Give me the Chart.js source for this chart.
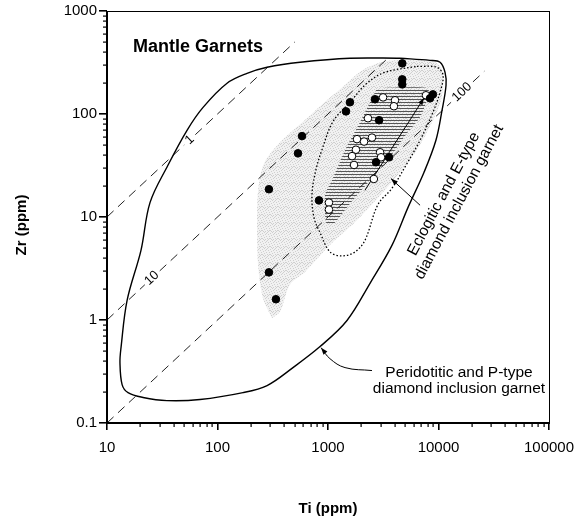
<!DOCTYPE html>
<html>
<head>
<meta charset="utf-8">
<script src="https://cdn.jsdelivr.net/npm/chart.js@4.4.0/dist/chart.umd.min.js"></script>
<style>
  html, body { margin: 0; padding: 0; background: #fff; }
</style>
</head>
<body>
<canvas id="myChart" width="583" height="520"></canvas>
<script>
// tick labels
const xTickValues = [10, 100, 1000, 10000, 100000];
const xTickLabels = ['10', '100', '1000', '10000', '100000'];
const yTickValues = [0.1, 1, 10, 100, 1000];
const yTickLabels = ['0.1', '1', '10', '100', '1000'];

// garnet analyses (ppm)
const filledTi = [4700, 4700, 4700, 2660, 2900, 1580, 1455, 582, 535, 292, 829, 2720, 3570, 292, 338, 8900, 8380];
const filledZr = [310, 217, 194, 139, 87, 130, 106, 61, 41.5, 18.6, 14.5, 34, 38, 2.9, 1.59, 155, 142];
const openTi = [3150, 4040, 3950, 7700, 2300, 1830, 2120, 2500, 1790, 1650, 2960, 3020, 1720, 2600, 1020, 1020];
const openZr = [145, 136, 119, 152, 91, 57, 54, 59, 45, 39, 42.5, 38, 32, 23.4, 13.8, 11.8];

// peridotitic / P-type field (solid outline)
const peridTi = [4490, 8380, 10330, 11460, 11700, 10770, 9480, 7400, 5300, 3790, 2400, 1486, 847, 482, 281, 170, 69.5, 34.9, 21.2, 15.5, 13.7, 13.1, 13.4, 15.2, 20.3, 24.5, 35.6, 53, 74, 122, 185, 281, 558, 1580, 4490];
const peridZr = [348, 332, 318, 254, 190, 109, 55.6, 27.2, 12.4, 5.3, 2.27, 0.99, 0.552, 0.345, 0.231, 0.197, 0.169, 0.165, 0.177, 0.197, 0.236, 0.386, 0.543, 1.55, 4.75, 13.8, 31.8, 69.5, 116, 199, 248, 284, 318, 348, 348];

// eclogitic / E-type field (dotted outline)
const eclogTi = [6380, 9680, 11000, 10330, 8910, 6810, 5080, 3790, 2830, 2160, 1754, 1340, 1042, 847, 747, 716, 778, 883, 1109, 1580, 2254, 3280, 6380];
const eclogZr = [290, 284, 238, 163, 104, 55.6, 31.8, 19.0, 13.2, 5.94, 4.58, 4.19, 4.58, 7.06, 9.86, 16.5, 28.8, 45.1, 84.4, 130, 199, 254, 290];

// hatched field
const hatchTi = [2775, 8040, 7870, 6810, 5190, 3640, 2400, 1486, 1109, 959, 940, 1087, 1426, 1950, 2775];
const hatchZr = [178, 178, 136, 92.9, 64.9, 38, 22.7, 12.4, 8.49, 8.89, 16.5, 22.7, 44.5, 83, 178];

// stippled field
const stipTi = [311, 258, 233, 228, 233, 264, 368, 558, 883, 1340, 2030, 3280, 5520, 8730, 10540, 11000, 10540, 8730, 6520, 4490, 2960, 1754, 1042, 619, 453, 368, 311];
const stipZr = [1.04, 1.63, 3.40, 8.37, 18.2, 33.2, 53.1, 79.4, 124, 181, 265, 325, 332, 325, 284, 203, 136, 83, 46.5, 27.2, 16.2, 8.89, 5.36, 2.93, 2.21, 1.20, 1.04];

// Ti/Zr reference lines (null = gap for the label)
const ratio1Ti = [10, 50, 56, 63, 500];
const ratio1Zr = [10, 50, null, 63, 500];
const ratio10Ti = [10, 22, 25.5, 30, 3500];
const ratio10Zr = [1, 2.2, null, 3.0, 350];
const ratio100Ti = [10, 13000, 16300, 20500, 26000];
const ratio100Zr = [0.1, 130, null, 205, 260];
const ratioLabels = ['1', '10', '100'];
const ratioLabelTi = [56, 25.5, 16300];
const ratioLabelZr = [56, 2.55, 163];

// arrows
const eclogArrowTi = [6810, 3715];
const eclogArrowZr = [13.0, 23.6];
const peridArrowTi = [2500, 1426, 1042, 865];
const peridArrowZr = [0.323, 0.345, 0.421, 0.539];
const trendArrowTi = [2160, 7400];
const trendArrowZr = [18.2, 143];

const FONT = '"Liberation Sans", Arial, sans-serif';
const pts = (xs, ys) => xs.map((v, i) => ({x: v, y: ys[i]}));

let ctx = document.getElementById('myChart').getContext('2d');

function makePattern(w, h, draw) {
  const c = document.createElement('canvas');
  c.width = w; c.height = h;
  draw(c.getContext('2d'));
  return ctx.createPattern(c, 'repeat');
}
// light irregular stipple, 8x8 tile
const stipple = makePattern(8, 8, g => {
  g.fillStyle = '#f1f1f1'; g.fillRect(0, 0, 8, 8);
  g.fillStyle = '#cfcfcf';
  [[0,0],[3,0],[6,1],[1,2],[4,2],[7,3],[2,4],[5,4],[0,5],[6,6],[3,6],[1,7],[4,7],[7,7],[2,1],[5,6]]
    .forEach(([i, j]) => g.fillRect(i, j, 1, 1));
});
const hatch = makePattern(4, 3, g => {
  g.fillStyle = 'rgba(60,60,60,0.85)'; g.fillRect(0, 0, 4, 1);
});

const lineSet = (data, extra) => Object.assign({
  type: 'line', data, pointRadius: 0, borderColor: '#000', borderWidth: 1, fill: false, tension: 0
}, extra);

function arrowHead(ctx, meta) {
  const p = meta.data[meta.data.length - 1], q = meta.data[meta.data.length - 2];
  const a = Math.atan2(p.y - q.y, p.x - q.x);
  ctx.save();
  ctx.translate(p.x, p.y);
  ctx.rotate(a);
  ctx.beginPath();
  ctx.moveTo(0, 0); ctx.lineTo(-7, -2.5); ctx.lineTo(-7, 2.5); ctx.closePath();
  ctx.fillStyle = '#000';
  ctx.fill();
  ctx.restore();
}

const notes = {
  id: 'notes',
  afterDraw(chart) {
    const {ctx, chartArea: a, scales: {x, y}} = chart;
    ctx.save();
    ctx.setLineDash([]);
    ctx.globalAlpha = 1;
    ctx.fillStyle = '#000';
    // frame: thin top/right, heavy left/bottom axes
    const L = Math.round(a.left), R = Math.round(a.right), T = Math.round(a.top), B = Math.round(a.bottom);
    ctx.fillRect(L, T, R - L + 1, 1);
    ctx.fillRect(R, T, 1, B - T);
    ctx.fillRect(L - 1, T, 2, B - T + 1);
    ctx.fillRect(L - 1, B - 1, R - L + 2, 2);
    // ticks
    for (let e = 1; e <= 5; e++) {
      for (let k = 1; k <= 9; k++) {
        const v = k * Math.pow(10, e);
        if (v > 100000) break;
        const px = Math.round(x.getPixelForValue(v));
        ctx.fillRect(px - (k === 1 ? 1 : 0.5), B, k === 1 ? 1.6 : 1.2, k === 1 ? 7 : 4);
      }
    }
    for (let e = -1; e <= 3; e++) {
      for (let k = 1; k <= 9; k++) {
        const v = k * Math.pow(10, e);
        if (v > 1000) break;
        const py = Math.round(y.getPixelForValue(v));
        const len = k === 1 ? 8 : 4;
        ctx.fillRect(L - len, py - (k === 1 ? 1 : 0.5), len, k === 1 ? 1.6 : 1.2);
      }
    }

    // arrow heads
    [2, 3, 4].forEach(i => arrowHead(ctx, chart.getDatasetMeta(i)));

    // ratio labels along the dashed lines
    const ang = Math.atan2(y.getPixelForValue(10) - y.getPixelForValue(1), x.getPixelForValue(100) - x.getPixelForValue(10));
    ctx.font = '13px ' + FONT;
    ctx.textAlign = 'center';
    ctx.textBaseline = 'middle';
    ratioLabels.forEach((t, i) => {
      ctx.save();
      ctx.translate(x.getPixelForValue(ratioLabelTi[i]), y.getPixelForValue(ratioLabelZr[i]));
      ctx.rotate(ang);
      ctx.fillText(t, 0, 0);
      ctx.restore();
    });

    // title
    ctx.font = 'bold 18px ' + FONT;
    ctx.textAlign = 'left';
    ctx.textBaseline = 'alphabetic';
    ctx.fillText('Mantle Garnets', a.left + 26, a.top + 41);

    // field labels
    ctx.font = '15.5px ' + FONT;
    ctx.textAlign = 'center';
    ctx.textBaseline = 'middle';
    ctx.fillText('Peridotitic and P-type', 459, 373);
    ctx.fillText('diamond inclusion garnet', 459, 389);
    ctx.save();
    ctx.translate(451.5, 198);
    ctx.rotate(-62 * Math.PI / 180);
    ctx.fillText('Eclogitic and E-type', 0, -8.75);
    ctx.fillText('diamond inclusion garnet', 0, 8.75);
    ctx.restore();

    // axis titles
    ctx.font = 'bold 15px ' + FONT;
    ctx.fillText('Ti (ppm)', (a.left + a.right) / 2, 508.5);
    ctx.save();
    ctx.translate(21.5, 225);
    ctx.rotate(-Math.PI / 2);
    ctx.fillText('Zr (ppm)', 0, 0);
    ctx.restore();
    ctx.restore();
  }
};

let chart = new Chart(ctx, {
  type: 'scatter',
  data: {
    datasets: [
      { data: pts(filledTi, filledZr), pointRadius: 3.8, pointBackgroundColor: '#000', pointBorderColor: '#000', pointBorderWidth: 1, order: 0 },
      { data: pts(openTi, openZr), pointRadius: 3.8, pointBackgroundColor: '#fff', pointBorderColor: '#000', pointBorderWidth: 1, order: 0 },
      lineSet(pts(trendArrowTi, trendArrowZr), { order: 1 }),
      lineSet(pts(eclogArrowTi, eclogArrowZr), { order: 1 }),
      lineSet(pts(peridArrowTi, peridArrowZr), { order: 1, tension: 0.4 }),
      lineSet(pts(peridTi, peridZr), { order: 2, borderWidth: 1.4, tension: 0.35 }),
      lineSet(pts(eclogTi, eclogZr), { order: 2, borderWidth: 1.3, borderDash: [1.5, 2], tension: 0.35 }),
      lineSet(pts(ratio1Ti, ratio1Zr), { order: 3, borderColor: '#222', borderDash: [9, 6] }),
      lineSet(pts(ratio10Ti, ratio10Zr), { order: 3, borderColor: '#222', borderDash: [9, 6] }),
      lineSet(pts(ratio100Ti, ratio100Zr), { order: 3, borderColor: '#222', borderDash: [9, 6] }),
      lineSet(pts(hatchTi, hatchZr), { order: 4, borderColor: 'rgba(0,0,0,0)', backgroundColor: hatch, fill: 'shape', tension: 0.2 }),
      lineSet(pts(stipTi, stipZr), { order: 5, borderColor: 'rgba(0,0,0,0)', backgroundColor: stipple, fill: 'shape', tension: 0.3 })
    ]
  },
  options: {
    responsive: false,
    animation: false,
    events: [],
    layout: { padding: { left: 0, right: 34, top: 11, bottom: 0 } },
    plugins: { legend: { display: false }, tooltip: { enabled: false } },
    scales: {
      x: {
        type: 'logarithmic', min: 10, max: 100000,
        grid: { display: false, drawTicks: true, tickLength: 16 },
        border: { display: false },
        ticks: { autoSkip: false, maxRotation: 0, padding: 0, color: '#000', font: { family: FONT, size: 15 },
                 callback: (v, i) => xTickLabels[i] },
        afterBuildTicks: s => { s.ticks = xTickValues.map(v => ({ value: v })); },
        afterFit: s => { s.height = 97; }
      },
      y: {
        type: 'logarithmic', min: 0.1, max: 1000,
        grid: { display: false, drawTicks: true, tickLength: 10 },
        border: { display: false },
        ticks: { autoSkip: false, padding: 0, color: '#000', font: { family: FONT, size: 15 },
                 callback: (v, i) => yTickLabels[i] },
        afterBuildTicks: s => { s.ticks = yTickValues.map(v => ({ value: v })); },
        afterFit: s => { s.width = 107; }
      }
    }
  },
  plugins: [notes]
});
</script>
</body>
</html>
